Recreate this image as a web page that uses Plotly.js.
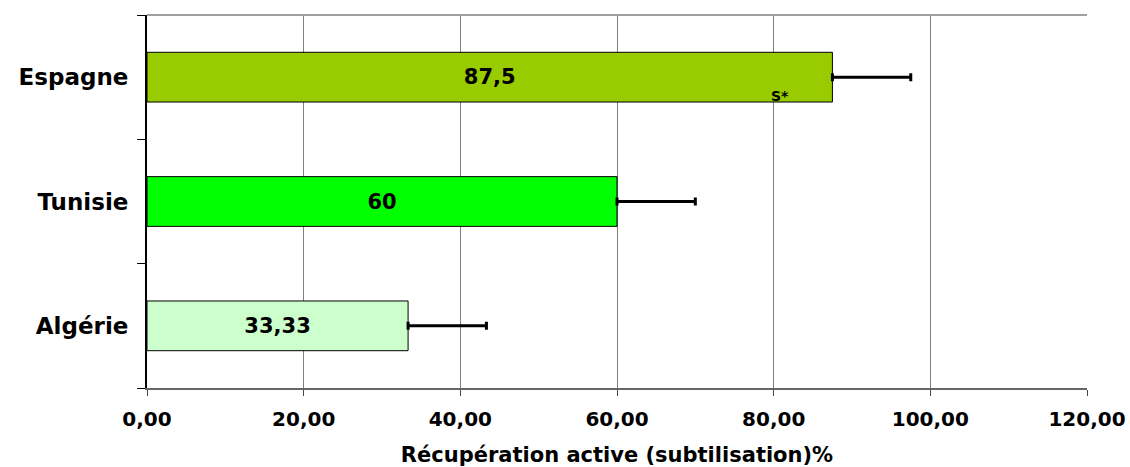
<!DOCTYPE html>
<html>
<head>
<meta charset="utf-8">
<script src="https://cdn.plot.ly/plotly-3.0.1.min.js"></script>
<style>html,body{margin:0;padding:0;background:#fff;}#chart{width:1130px;height:467px;}</style>
</head>
<body>
<div id="chart"></div>
<script>
var categories = ["Algérie", "Tunisie", "Espagne"];
var values = [33.33, 60, 87.5];
var errorsPlus = [10, 10, 10];
var valueLabels = ["33,33", "60", "87,5"];
var barColors = ["#CCFFCC", "#00FF00", "#99CC00"];
var tickValues = [0, 20, 40, 60, 80, 100, 120];
var tickLabels = ["0,00", "20,00", "40,00", "60,00", "80,00", "100,00", "120,00"];
var noteText = "S*";
var noteX = 80.8;
var noteCategory = "Espagne";

var font = "DejaVu Sans, Arial, sans-serif";

var trace = {
  type: "bar",
  orientation: "h",
  y: categories,
  x: values,
  text: valueLabels,
  textposition: "inside",
  insidetextanchor: "middle",
  textangle: 0,
  textfont: {family: font, size: 21, color: "#000", weight: "bold"},
  marker: {color: barColors, line: {color: "#000", width: 1}},
  error_x: {type: "data", symmetric: false, array: errorsPlus, arrayminus: [0,0,0], color: "#000", thickness: 3, width: 4},
  hoverinfo: "none"
};

var layout = {
  width: 1130, height: 467,
  margin: {l: 147, r: 43, t: 15, b: 79},
  paper_bgcolor: "#fff", plot_bgcolor: "#fff",
  showlegend: false,
  bargap: 0.6,
  font: {family: font, color: "#000"},
  xaxis: {
    range: [0, 120],
    tickvals: tickValues,
    ticktext: tickLabels,
    showgrid: true, gridcolor: "#808080", gridwidth: 1,
    zeroline: false,
    showline: true, linecolor: "#666", linewidth: 2,
    ticks: "outside", ticklen: 6, tickcolor: "#444", tickwidth: 1,
    ticklabelstandoff: 6,
    tickfont: {family: font, size: 20, color: "#000", weight: "bold"},
    title: {text: "Récupération active (subtilisation)%", font: {family: font, size: 21, color: "#000", weight: "bold"}, standoff: 20}
  },
  yaxis: {
    type: "category",
    categoryorder: "array", categoryarray: categories,
    showgrid: false, zeroline: false,
    showline: true, linecolor: "#000", linewidth: 2,
    ticks: "outside", tickson: "boundaries", ticklen: 8, tickcolor: "#000", tickwidth: 1,
    tickfont: {family: font, size: 23, color: "#000", weight: "bold"},
    ticklabelstandoff: 12
  },
  shapes: [
    {type: "line", xref: "paper", yref: "paper", x0: 0, x1: 1, y0: 1, y1: 1, line: {color: "#A0A0A0", width: 2}}
  ],
  annotations: [
    {x: noteX, y: noteCategory, xref: "x", yref: "y", text: noteText, showarrow: false, yshift: -19,
     font: {family: font, size: 14, color: "#000", weight: "bold"}}
  ]
};

Plotly.newPlot("chart", [trace], layout, {staticPlot: true, displayModeBar: false});
</script>
</body>
</html>
